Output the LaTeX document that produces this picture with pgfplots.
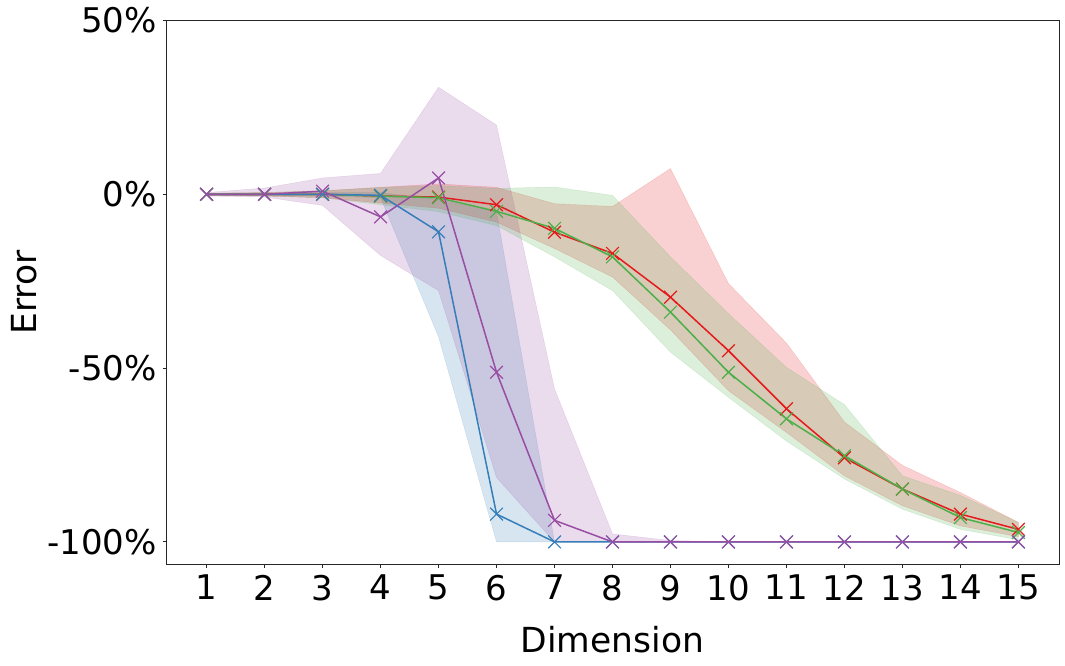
\documentclass[border=0pt]{standalone}
\usepackage{fontspec}
\setmainfont{DejaVu Sans}
\usepackage{pgfplots}
\usepackage{pgfplotstable}
\pgfplotsset{compat=1.18}
\usepgfplotslibrary{fillbetween}

\definecolor{cred}{HTML}{E41A1C}
\definecolor{cblue}{HTML}{377EB8}
\definecolor{cgreen}{HTML}{4DAF4A}
\definecolor{cpurple}{HTML}{984EA3}

\pgfplotstableread{
x m lo hi
1 0 -0.3 0.3
2 0 -0.3 0.3
3 0 -0.5 0.5
4 -0.3 -1 0.5
5 -10.8 -41 -1.5
6 -92 -100 -5
7 -100 -100 -100
8 -100 -100 -100
9 -100 -100 -100
10 -100 -100 -100
11 -100 -100 -100
12 -100 -100 -100
13 -100 -100 -100
14 -100 -100 -100
15 -100 -100 -100
}\tblue

\pgfplotstableread{
x m lo hi
1 0 -0.5 0.5
2 0 -0.8 1.8
3 0.9 -3.2 4.7
4 -6.5 -17.6 6
5 4.7 -27.7 30.8
6 -51.2 -81.5 19.9
7 -93.8 -100 -56
8 -100 -100 -97.7
9 -100 -100 -99.6
10 -100 -100 -100
11 -100 -100 -100
12 -100 -100 -100
13 -100 -100 -100
14 -100 -100 -100
15 -100 -100 -100
}\tpurple

\pgfplotstableread{
x m lo hi
1 0 -0.3 0.3
2 0 -0.5 0.5
3 0 -1 1
4 -0.5 -2.5 2
5 -0.8 -4 3
6 -3 -8 2
7 -10.9 -15.6 -2.7
8 -17 -23.8 -3.5
9 -29.6 -39 7.4
10 -45 -56.5 -25.7
11 -61.7 -68.5 -42.8
12 -75.8 -81 -65.5
13 -84.8 -89.6 -78
14 -92 -95.4 -85.8
15 -96.4 -98.5 -94.4
}\tred

\pgfplotstableread{
x m lo hi
1 0 -0.3 0.3
2 0 -0.5 0.5
3 0 -1 1
4 -0.5 -3 2
5 -1 -5 2.5
6 -4.9 -9 1.7
7 -9.8 -18 2.1
8 -18 -27.7 -0.3
9 -33.9 -45.4 -18
10 -51.2 -58.4 -34.3
11 -64.6 -71 -49.8
12 -75.2 -81.9 -60.5
13 -84.8 -90.6 -81
14 -93 -96.4 -86.6
15 -97.3 -99.4 -94.4
}\tgreen

\begin{document}
\begin{tikzpicture}
\begin{axis}[
  at={(0pt,0pt)}, anchor=south west,
  scale only axis,
  width=893pt, height=544pt,
  xmin=0.3, xmax=15.7,
  ymin=-106.5, ymax=50,
  xtick={1,2,...,15},
  ytick={-100,-50,0,50},
  yticklabels={-100\%,-50\%,0\%,50\%},
  tick align=outside,
  major tick length=3.5pt,
  tick style={line width=0.9pt, black!85},
  axis line style={line width=0.9pt, black!85},
  xtick pos=bottom, ytick pos=left,
  /pgf/number format/assume math mode=true,
  ticklabel style={font=\fontsize{34}{40}\selectfont},
  xticklabel style={inner sep=0pt, yshift=-7pt},
  yticklabel style={inner sep=0pt, xshift=-5.5pt},
  xlabel={Dimension},
  ylabel={Error},
  label style={font=\fontsize{34.5}{40}\selectfont},
  xlabel style={at={(axis description cs:0.5,-0.139)}, anchor=center, inner sep=0pt},
  ylabel style={at={(axis description cs:-0.159,0.5)}, anchor=center, rotate=0, inner sep=0pt},
]
% bands
\addplot[name path=bu, draw=none, forget plot] table[x=x,y=hi]{\tblue};
\addplot[name path=bl, draw=none, forget plot] table[x=x,y=lo]{\tblue};
\addplot[fill=cblue, fill opacity=0.2, draw=cblue, draw opacity=0.2] fill between[of=bu and bl];
\addplot[name path=pu, draw=none, forget plot] table[x=x,y=hi]{\tpurple};
\addplot[name path=pl, draw=none, forget plot] table[x=x,y=lo]{\tpurple};
\addplot[fill=cpurple, fill opacity=0.2, draw=cpurple, draw opacity=0.2] fill between[of=pu and pl];
\addplot[name path=ru, draw=none, forget plot] table[x=x,y=hi]{\tred};
\addplot[name path=rl, draw=none, forget plot] table[x=x,y=lo]{\tred};
\addplot[fill=cred, fill opacity=0.2, draw=cred, draw opacity=0.2] fill between[of=ru and rl];
\addplot[name path=gu, draw=none, forget plot] table[x=x,y=hi]{\tgreen};
\addplot[name path=gl, draw=none, forget plot] table[x=x,y=lo]{\tgreen};
\addplot[fill=cgreen, fill opacity=0.2, draw=cgreen, draw opacity=0.2] fill between[of=gu and gl];
% lines
\addplot[cred, line width=1.5pt, mark=x, mark size=9pt, mark options={line width=1.2pt}] table[x=x,y=m]{\tred};
\addplot[cgreen, line width=1.5pt, mark=x, mark size=9pt, mark options={line width=1.2pt}] table[x=x,y=m]{\tgreen};
\addplot[cblue, line width=1.5pt, mark=x, mark size=9pt, mark options={line width=1.2pt}] table[x=x,y=m]{\tblue};
\addplot[cpurple, line width=1.5pt, mark=x, mark size=9pt, mark options={line width=1.2pt}] table[x=x,y=m]{\tpurple};
\end{axis}
\pgfresetboundingbox
\useasboundingbox (-166pt,-101.5pt) rectangle (899pt,564.5pt);
\end{tikzpicture}
\end{document}
